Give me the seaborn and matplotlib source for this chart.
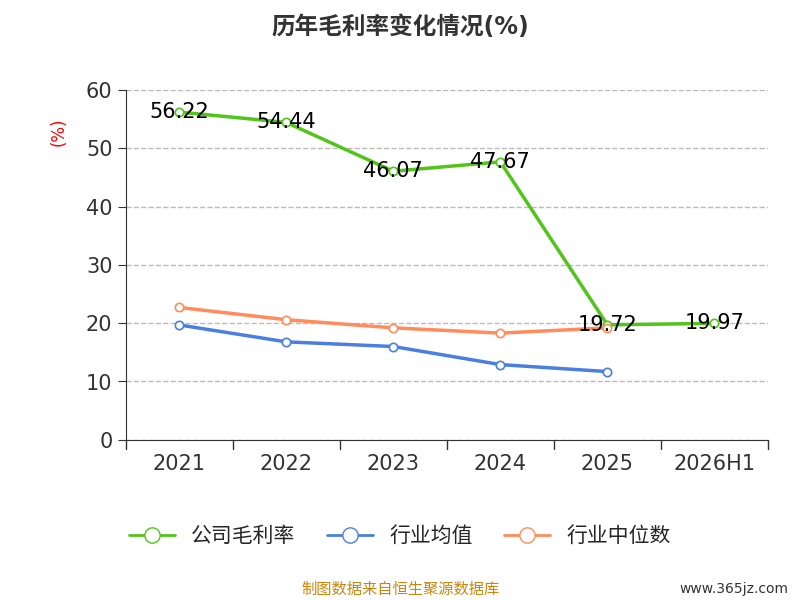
import matplotlib
matplotlib.use("Agg")
import matplotlib.pyplot as plt
import seaborn as sns
import pandas as pd
import numpy as np
from matplotlib.lines import Line2D

sns.set_style("white")
plt.rcParams['font.family'] = ['DejaVu Sans', 'Noto Sans CJK SC']

years = ['2021', '2022', '2023', '2024', '2025', '2026H1']
company = [56.22, 54.44, 46.07, 47.67, 19.72, 19.97]
industry_avg = [19.7, 16.8, 16.0, 12.9, 11.7]
industry_med = [22.7, 20.6, 19.2, 18.3, 19.2]

rows = []
for i, v in enumerate(company):
    rows.append(('公司毛利率', i, v))
for i, v in enumerate(industry_avg):
    rows.append(('行业均值', i, v))
for i, v in enumerate(industry_med):
    rows.append(('行业中位数', i, v))
df = pd.DataFrame(rows, columns=['series', 'x', 'y'])

palette = {'公司毛利率': '#52c41a', '行业均值': '#4a7fe0', '行业中位数': '#ff8c5a'}

fig = plt.figure(figsize=(8, 6), dpi=100)
ax = fig.add_axes([0.157, 0.267, 0.803, 0.583])
sns.lineplot(data=df, x='x', y='y', hue='series', palette=palette, linewidth=2.5,
             marker='o', markersize=6, markerfacecolor='white', markeredgewidth=1.2,
             ax=ax, legend=False)
for line in ax.lines:
    line.set_markeredgecolor(line.get_color())

for i, v in enumerate(company):
    ax.text(i, v, f'{v:.2f}', ha='center', va='center', fontsize=15, color='black')

ax.set_xlim(-0.5, 5.5)
ax.set_ylim(0, 60)
ax.set_yticks(range(0, 61, 10))
ax.set_xticks(np.arange(6))
ax.set_xticklabels(years, fontsize=15, color='#333333')
ax.tick_params(axis='y', labelsize=15, colors='#333333', length=6, left=True)
ax.tick_params(axis='x', length=0, pad=10)
for b in np.arange(-0.5, 5.6, 1):
    ax.plot([b, b], [0, -1.5], color='#333333', lw=1, clip_on=False)
ax.yaxis.grid(True, linestyle='--', color='#bbbbbb', linewidth=1)
for s in ['top', 'right']:
    ax.spines[s].set_visible(False)
ax.spines['left'].set_color('#333333')
ax.spines['bottom'].set_color('#333333')
ax.set_xlabel('')
ax.set_ylabel('(%)', color='red', fontsize=12)
ax.yaxis.set_label_coords(-0.09, 0.88)

fig.text(0.5, 0.955, '历年毛利率变化情况(%)', ha='center', va='center', fontsize=17, fontweight='bold', color='#333333')

handles = [Line2D([], [], color=palette[k], lw=2, marker='o', markersize=11,
                  markerfacecolor='white', markeredgecolor=palette[k]) for k in palette]
fig.legend(handles, list(palette), loc='center', bbox_to_anchor=(0.5, 0.107), ncol=3,
           frameon=False, fontsize=15, handlelength=2.2, columnspacing=1.5)

fig.text(0.5, 0.018, '制图数据来自恒生聚源数据库', ha='center', va='center', fontsize=11, color='#c8860a')
fig.text(0.985, 0.018, 'www.365jz.com', ha='right', va='center', fontsize=10, color='#333333')

fig.savefig('out.png', dpi=100)
